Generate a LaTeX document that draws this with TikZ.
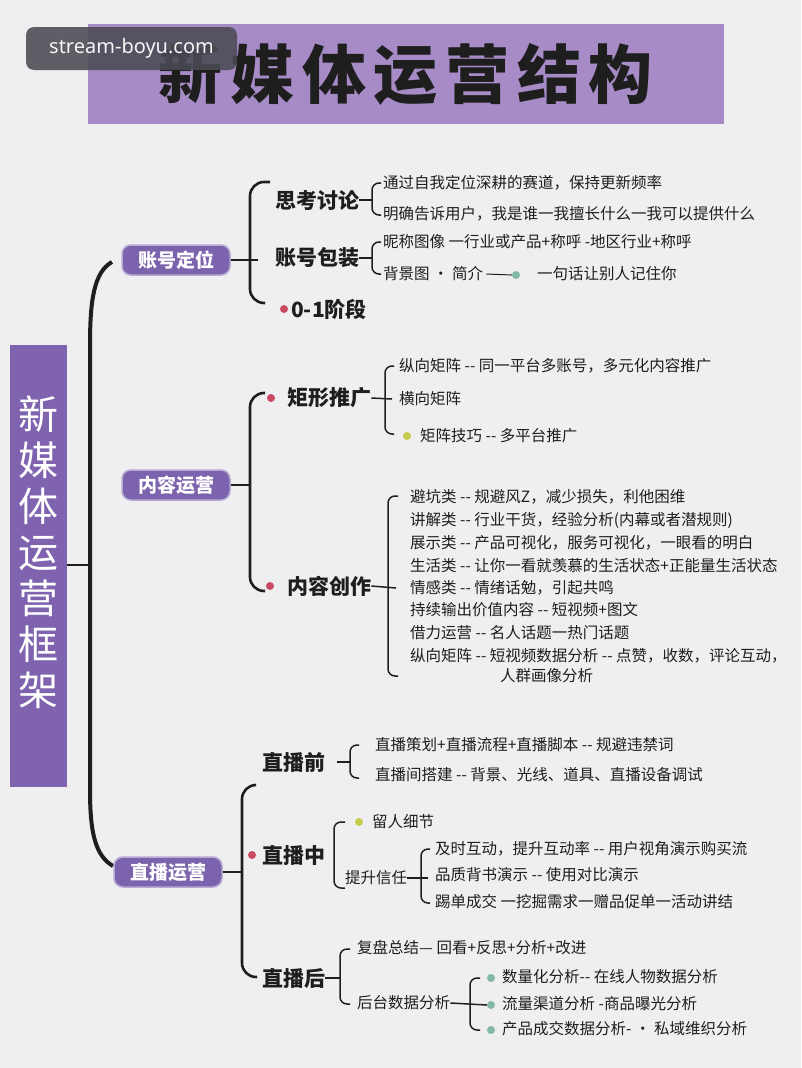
\documentclass[tikz,border=0pt]{standalone}
\usepackage{fontspec}
\setmainfont{Noto Sans CJK SC}
\newfontfamily\latinsans{Noto Sans}
\newfontfamily\titlefont[LetterSpace=12]{Noto Sans CJK SC}
\definecolor{bg}{HTML}{EFEEF1}
\definecolor{titlepurple}{HTML}{A78BC7}
\definecolor{barpurple}{HTML}{7F63AF}
\definecolor{nodepurple}{HTML}{7C63AD}
\definecolor{reddot}{HTML}{C94A62}
\definecolor{ygdot}{HTML}{C5CC4B}
\definecolor{tealdot}{HTML}{82B9A3}
\definecolor{ink}{HTML}{1E1E1E}
\definecolor{wmgray}{HTML}{4B4B55}
\newcommand\dsh{-{}-}
\begin{document}
\begin{tikzpicture}[x=1pt,y=-1pt,
  lone/.style={fill=nodepurple, draw=nodepurple!55!white, line width=1.5, rounded corners=9,
    text=white, font=\bfseries\fontsize{19}{19}\selectfont, minimum width=108, minimum height=30, inner sep=0},
  ltwo/.style={font=\bfseries\fontsize{21}{21}\selectfont, text=ink, inner sep=0, anchor=west},
  item/.style={font=\fontsize{15.5}{20}\selectfont, text=ink, inner sep=0, anchor=west},
  dotn/.style={circle, inner sep=0, minimum size=8},
  brk/.style={line width=1.5, rounded corners=7, draw=ink},
  mainbrk/.style={line width=2.6, rounded corners=14, draw=ink},
  conn/.style={line width=1.5, draw=ink},
  mainconn/.style={line width=2.6, draw=ink}]
\useasboundingbox (0,0) rectangle (801,1068);
\fill[bg] (0,0) rectangle (801,1068);

% title
\node[fill=titlepurple, minimum width=636, minimum height=100, inner sep=0,
  font=\titlefont\bfseries\fontsize{64}{64}\selectfont, text=ink] (title) at (406,74) {新媒体运营结构};
% watermark
\node[fill=wmgray, fill opacity=0.88, text opacity=1, rounded corners=8, minimum width=211, minimum height=43,
  inner sep=0, text=white!92!gray, font=\latinsans\fontsize{20}{20}\selectfont] (wm) at (131.5,48.5) {stream-boyu.com};

% left bar
\node[fill=barpurple, minimum width=57, minimum height=442, inner sep=0] (bar) at (38.5,566) {};
\node[font=\fontsize{40}{46}\selectfont, text=white, align=center, inner sep=0] (bartext) at (38.5,552)
  {新\\媒\\体\\运\\营\\框\\架};

% trunk
\coordinate (trunkTop) at (112,262);
\coordinate (trunkBot) at (113,866);
\coordinate (barJ) at (90,565);
\draw[line width=4, ink] (trunkTop) .. controls (94,272) and (90,300) .. (90,345) -- (90,790)
  .. controls (90,835) and (96,856) .. (trunkBot);
\draw[mainconn] (bar.east |- barJ) -- (barJ);

% ===== section 1 =====
\node[lone] (a1) at (176,260) {账号定位};
\coordinate (b1) at (258,260);
\draw[mainconn] (a1.east) -- (b1);
\draw[mainbrk] (270,182) -- (250,182) -- (250,303) -- (265,303);

\node[ltwo] (s11) at (275,200) {思考讨论};
\node[ltwo] (s12) at (275,258) {账号包装};
\node[dotn, fill=reddot] (d13) at (284,309) {};
\node[ltwo] (s13) at (291,309) {0-1阶段};

\coordinate (b11) at (372,200);
\draw[conn] (s11.east) -- (b11);
\draw[brk] (381,183) -- (372,183) -- (372,215) -- (381,215);
\node[item] (t111) at (383,183) {通过自我定位深耕的赛道，保持更新频率};
\node[item] (t112) at (383,214) {明确告诉用户，我是谁一我擅长什么一我可以提供什么};

\coordinate (b12) at (372,258);
\draw[conn] (s12.east) -- (b12);
\draw[brk] (381,242) -- (372,242) -- (372,274) -- (381,274);
\node[item] (t121) at (383,242) {昵称图像 一行业或产品+称呼 -地区行业+称呼};
\node[item] (t122) at (383,274) {背景图 · 简介};
\node[dotn, fill=tealdot] (d122) at (516,275) {};
\draw[line width=1, ink] ([xshift=3]t122.east) -- (d122.west);
\node[item] (t123) at (537,274) {一句话让别人记住你};

% ===== section 2 =====
\node[lone] (a2) at (176,485) {内容运营};
\coordinate (b2) at (250,485);
\draw[mainconn] (a2.east) -- (b2);
\draw[mainbrk] (265,393) -- (250,393) -- (250,591) -- (265,591);

\node[dotn, fill=reddot] (d21) at (271,398) {};
\node[ltwo] (s21) at (287,398) {矩形推广};
\node[dotn, fill=reddot] (d22) at (270,586) {};
\node[ltwo] (s22) at (287,586) {内容创作};

\coordinate (b21) at (392,399);
\draw[conn] (s21.east) -- (b21);
\draw[brk] (394,366) -- (385,366) -- (385,434) -- (394,434);
\node[item] (t211) at (399,366) {纵向矩阵 \dsh{} 同一平台多账号，多元化内容推广};
\node[item] (t212) at (399,399) {横向矩阵};
\node[dotn, fill=ygdot] (d213) at (407,436) {};
\node[item] (t213) at (420,436) {矩阵技巧 \dsh{} 多平台推广};

\coordinate (b22) at (396,588);
\draw[conn] (s22.east) -- (b22);
\draw[brk] (398,496) -- (388,496) -- (388,676) -- (398,676);
\node[item] (t221) at (410,497) {避坑类 \dsh{} 规避风Z，减少损失，利他困维};
\node[item] (t222) at (410,520) {讲解类 \dsh{} 行业干货，经验分析(内幕或者潜规则)};
\node[item] (t223) at (410,543) {展示类 \dsh{} 产品可视化，服务可视化，一眼看的明白};
\node[item] (t224) at (410,566) {生活类 \dsh{} 让你一看就羡慕的生活状态+正能量生活状态};
\node[item] (t225) at (410,588) {情感类 \dsh{} 情绪话勉，引起共鸣};
\node[item] (t226) at (410,610) {持续输出价值内容 \dsh{} 短视频+图文};
\node[item] (t227) at (410,633) {借力运营 \dsh{} 名人话题一热门话题};
\node[item] (t228) at (410,656) {纵向矩阵 \dsh{} 短视频数据分析 \dsh{} 点赞，收数，评论互动，};
\node[item] (t229) at (500,676) {人群画像分析};

% ===== section 3 =====
\node[lone] (a3) at (168,872) {直播运营};
\coordinate (b3) at (242,872);
\draw[mainconn] (a3.east) -- (b3);
\draw[mainbrk] (255,785) -- (242,785) -- (242,977) -- (257,977);

\node[ltwo] (s31) at (262,762) {直播前};
\node[dotn, fill=reddot] (d32) at (252,855) {};
\node[ltwo] (s32) at (262,855) {直播中};
\node[ltwo] (s33) at (262,978) {直播后};

\coordinate (b31) at (350,762);
\draw[conn] ([xshift=12]s31.east) -- (b31);
\draw[brk] (359,745) -- (350,745) -- (350,778) -- (359,778);
\node[item] (t311) at (375,745) {直播策划+直播流程+直播脚本 \dsh{} 规避违禁词};
\node[item] (t312) at (375,775) {直播间搭建 \dsh{} 背景、光线、道具、直播设备调试};

\draw[brk] (345,822) -- (334,822) -- (334,888) -- (345,888);
\node[dotn, fill=ygdot] (d321) at (359,822) {};
\node[item] (t321) at (372,822) {留人细节};
\node[item] (t322) at (345,878) {提升信任};
\coordinate (b322) at (428,878);
\draw[conn] (t322.east) -- (b322);
\draw[brk] (430,849) -- (421,849) -- (421,903) -- (430,903);
\node[item] (t3221) at (435,849) {及时互动，提升互动率 \dsh{} 用户视角演示购买流};
\node[item] (t3222) at (435,875) {品质背书演示 \dsh{} 使用对比演示};
\node[item] (t3223) at (435,902) {踢单成交 一挖掘需求一赠品促单一活动讲结};

\coordinate (b33) at (340,978);
\draw[conn] (s33.east) -- (b33);
\draw[brk] (350,949) -- (340,949) -- (340,1004) -- (350,1004);
\node[item] (t331) at (357,948) {复盘总结— 回看+反思+分析+改进};
\node[item] (t332) at (357,1003) {后台数据分析};
\draw[brk] (480,978) -- (470,978) -- (470,1030) -- (480,1030);
\node[dotn, fill=tealdot] (d3321) at (491,978) {};
\node[dotn, fill=tealdot] (d3322) at (491,1005) {};
\node[dotn, fill=tealdot] (d3323) at (491,1030) {};
\draw[conn] (t332.east) -- (d3322.west);
\node[item] (t3321) at (502,977) {数量化分析\dsh{} 在线人物数据分析};
\node[item] (t3322) at (502,1004) {流量渠道分析 -商品曝光分析};
\node[item] (t3323) at (502,1029) {产品成交数据分析- · 私域维织分析};
\end{tikzpicture}
\end{document}
